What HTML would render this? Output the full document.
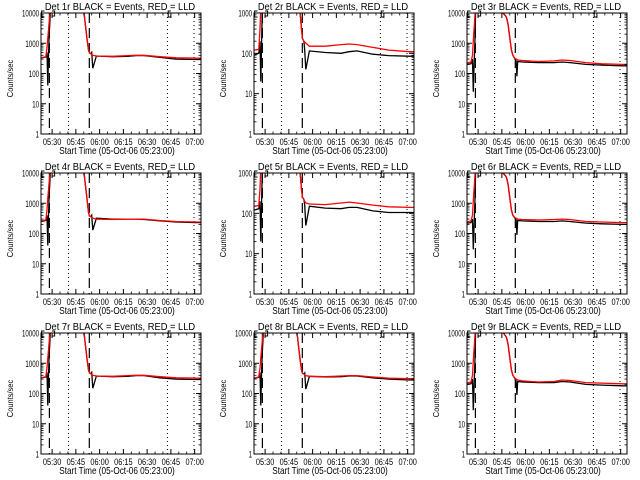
<!DOCTYPE html>
<html><head><meta charset="utf-8"><style>
html,body{margin:0;padding:0;background:#fff;}
svg{display:block;font-family:"Liberation Sans",sans-serif;}
</style></head><body>
<svg id="chart" width="640" height="480" viewBox="0 0 640 480"></svg>
<script>
// Shared data: time in minutes since 05:23:00
const tickLabels = ["05:30","05:45","06:00","06:15","06:30","06:45","07:00"];
const tickMinutes = [7,22,37,52,67,82,97];
const dashedMarks = [5.3,30.5];
const dottedMarks = [17.4,79.8,96.6];
const panelTitles = ["Det 1r","Det 2r","Det 3r","Det 4r","Det 5r","Det 6r","Det 7r","Det 8r","Det 9r"];
const panelDecades = [4,3,4,4,3,4,4,4,4];

// Type A (fast fall) time grid
const timesA = [0,3,3.8,4.3,4.7,5.2,6,7,26,27,28,29,30,30.6,31.5,32,32.7,35,45,55,60,65,75,85,98,101];
const redA1 = [330,360,700,1500,2500,5000,12000,30000,30000,12000,4000,1500,600,480,450,420,400,380,370,390,400,400,360,330,320,320];
const blkA1 = [330,350,500,40,300,2000,12000,30000,30000,12000,4000,1500,600,480,450,500,150,380,360,370,390,390,340,300,290,290];
const redA4 = [260,280,600,1500,2500,5000,12000,30000,30000,12000,4000,1500,500,380,360,340,320,300,290,300,300,300,270,250,240,240];
const blkA4 = [250,270,400,40,300,2000,12000,30000,30000,12000,4000,1500,500,380,360,400,130,320,300,300,300,290,260,240,230,230];
const redA7 = [330,360,700,1500,2500,5000,12000,30000,30000,12000,4000,1500,600,480,450,420,400,380,370,390,400,400,360,330,320,320];
const blkA7 = [330,350,500,40,300,2000,12000,30000,30000,12000,4000,1500,600,480,450,500,150,380,360,370,390,390,330,300,290,290];
const redA8 = [320,350,700,1500,2500,5000,12000,30000,30000,12000,4000,1500,600,470,440,410,390,370,360,380,390,390,350,320,310,310];
const blkA8 = [320,340,500,40,300,2000,12000,30000,30000,12000,4000,1500,600,470,440,480,140,370,350,360,380,380,330,300,280,280];
// Low-rate panels (2, 5)
const redB2 = [120,125,400,1500,2500,5000,12000,30000,30000,12000,4000,1200,400,230,200,190,180,150,150,165,170,165,140,120,110,110];
const blkB2 = [90,100,200,20,100,1000,12000,30000,30000,12000,4000,1200,400,230,200,120,40,115,105,100,110,115,95,88,85,85];
const redB5 = [150,155,400,1500,2500,5000,12000,30000,30000,12000,4000,1200,400,250,220,200,180,170,165,180,190,180,160,145,140,140];
const blkB5 = [120,130,200,20,100,1000,12000,30000,30000,12000,4000,1200,400,250,220,160,50,150,135,130,140,140,115,105,105,105];
// Type C (slow fall) time grid
const timesC = [0,2.5,3.5,4,4.5,5,5.5,6,7,22,23,24,25,26,27,28,29,30,31,31.5,32,35,45,55,60,65,75,85,98,101];
const redC3 = [220,240,400,1200,3000,8000,15000,30000,30000,11000,9500,8500,7000,4000,1500,600,400,320,300,290,280,270,250,260,280,270,230,210,200,200];
const blkC3 = [200,210,300,25,200,1000,15000,30000,30000,11000,9500,8500,7000,4000,1500,600,400,320,260,80,250,240,230,230,240,230,200,190,180,180];
const redC6 = [240,260,400,1200,3000,8000,15000,30000,30000,11000,9500,8500,7000,4000,1500,600,400,340,320,310,300,290,280,290,300,290,250,240,230,230];
const blkC6 = [220,230,300,30,200,1000,15000,30000,30000,11000,9500,8500,7000,4000,1500,600,400,340,280,90,270,260,250,250,260,250,220,210,200,200];
const redC9 = [220,240,400,1200,3000,8000,15000,30000,30000,12000,10000,8500,7000,4000,1500,600,400,330,300,290,280,260,240,250,280,270,230,220,210,210];
const blkC9 = [200,210,300,28,200,1000,15000,30000,30000,12000,10000,8500,7000,4000,1500,600,400,330,260,90,250,240,230,230,250,240,200,190,180,180];

const panelTimes = [timesA,timesA,timesC,timesA,timesA,timesC,timesA,timesA,timesC];
const panelRed = [redA1,redB2,redC3,redA4,redB5,redC6,redA7,redA8,redC9];
const panelBlack = [blkA1,blkB2,blkC3,blkA4,blkB5,blkC6,blkA7,blkA8,blkC9];

const NS = "http://www.w3.org/2000/svg";
const svg = document.getElementById("chart");
const colLeft = [41,254,467];
const rowTop = [0,160,320];
const W = 160, TOP = 13, BOT = 134, TSPAN = 101;

function mk(tag, attrs, parent){
  const e = document.createElementNS(NS, tag);
  for (const k in attrs) e.setAttribute(k, attrs[k]);
  parent.appendChild(e);
  return e;
}

for (let p = 0; p < 9; p++) {
  const L = colLeft[p % 3], R0 = rowTop[Math.floor(p / 3)];
  const top = R0 + TOP, bot = R0 + BOT;
  const dec = panelDecades[p];
  const xs = t => L + t * W / TSPAN;
  const ys = v => { const lv = Math.log10(Math.max(v, 0.5)); return bot - (lv / dec) * (bot - top); };

  const g = mk("g", {}, svg);
  
  

  const clipId = "clip" + p;
  const cp = mk("clipPath", {id: clipId}, g);
  mk("rect", {x: L, y: top, width: W, height: bot - top}, cp);

  dashedMarks.forEach(t => {
    const l = mk("line", {x1: xs(t), x2: xs(t), y1: top, y2: bot, stroke: "#000", "stroke-width": 1.2, "stroke-dasharray": "10,5"}, g);
    
    
  });
  dottedMarks.forEach(t => {
    const l = mk("line", {x1: xs(t), x2: xs(t), y1: top, y2: bot, stroke: "#000", "stroke-width": 1, "stroke-dasharray": "1,3"}, g);
    
    
  });

  const tArr = panelTimes[p];
  const mkPath = (vals) => vals.map((v, i) => (i ? "L" : "M") + xs(tArr[i]).toFixed(1) + "," + ys(v).toFixed(1)).join(" ");
  const bl = mk("path", {d: mkPath(panelBlack[p]), fill: "none", stroke: "#000", "stroke-width": 1.3, "clip-path": "url(#" + clipId + ")"}, g);
  
  
  const rl = mk("path", {d: mkPath(panelRed[p]), fill: "none", stroke: "#f00", "stroke-width": 1.3, "clip-path": "url(#" + clipId + ")"}, g);
  
  

  const fr = mk("rect", {x: L, y: top, width: W, height: bot - top, fill: "none", stroke: "#000", "stroke-width": 1}, g);
  
  

  const br = mk("path", {d: `M${xs(2.2)},${top+4} L${xs(0.4)},${top+4} L${xs(0.4)},${top-2} L${xs(2.2)},${top-2} M${xs(7)},${top-2} L${xs(8.6)},${top-2} L${xs(8.6)},${top+3} L${xs(6.6)},${top+3} M${xs(82)},${top+4} L${xs(80.3)},${top+4} L${xs(80.3)},${top-2} L${xs(82)},${top-2}`, fill: "none", stroke: "#000", "stroke-width": 1}, g);
  
  

  for (let d = 0; d <= dec; d++) {
    const y = ys(Math.pow(10, d));
    mk("line", {x1: L, x2: L + 5, y1: y, y2: y, stroke: "#000"}, g);
    mk("line", {x1: L + W, x2: L + W - 5, y1: y, y2: y, stroke: "#000"}, g);
    const tl = mk("text", {x: 0, y: 0, "font-size": 9, "text-anchor": "end", transform: `translate(${L - 2},${y + 3.5}) scale(0.68,1)`}, g);
    tl.textContent = String(Math.pow(10, d));
    
    
    if (d < dec) for (let m = 2; m <= 9; m++) {
      const ym = ys(m * Math.pow(10, d));
      mk("line", {x1: L, x2: L + 2.5, y1: ym, y2: ym, stroke: "#000", "stroke-width": 0.8}, g);
      mk("line", {x1: L + W, x2: L + W - 2.5, y1: ym, y2: ym, stroke: "#000", "stroke-width": 0.8}, g);
    }
  }
  tickMinutes.forEach((t, i) => {
    const x = xs(t);
    mk("line", {x1: x, x2: x, y1: bot, y2: bot - 5, stroke: "#000"}, g);
    mk("line", {x1: x, x2: x, y1: top, y2: top + 5, stroke: "#000"}, g);
    const tl = mk("text", {x: 0, y: 0, "font-size": 9, "text-anchor": "middle", transform: `translate(${x},${bot + 11}) scale(0.82,1)`}, g);
    tl.textContent = tickLabels[i];
    
    
  });
  for (let t = 7 + 5; t < TSPAN; t += 5) {
    if ((t - 7) % 15 === 0) continue;
    const x = xs(t);
    mk("line", {x1: x, x2: x, y1: bot, y2: bot - 2.5, stroke: "#000", "stroke-width": 0.8}, g);
    mk("line", {x1: x, x2: x, y1: top, y2: top + 2.5, stroke: "#000", "stroke-width": 0.8}, g);
  }

  const tt = mk("text", {x: 0, y: 0, "font-size": 10.5, "text-anchor": "middle", transform: `translate(${L + W / 2 - 1},${R0 + 10}) scale(0.89,1)`}, g);
  tt.textContent = panelTitles[p] + " BLACK = Events, RED = LLD";
  
  
  const xt = mk("text", {x: 0, y: 0, "font-size": 10, "text-anchor": "middle", transform: `translate(${L + W / 2 - 4},${bot + 20}) scale(0.82,1)`}, g);
  xt.textContent = "Start Time (05-Oct-06 05:23:00)";
  
  
  const yx = L - 28, yy = (top + bot) / 2 + 5;
  const yt = mk("text", {x: 0, y: 0, "font-size": 8.5, "text-anchor": "middle", transform: `translate(${yx},${yy}) rotate(-90) scale(0.88,1)`}, g);
  yt.textContent = "Counts/sec";
  
  
}
</script>
</body></html>
